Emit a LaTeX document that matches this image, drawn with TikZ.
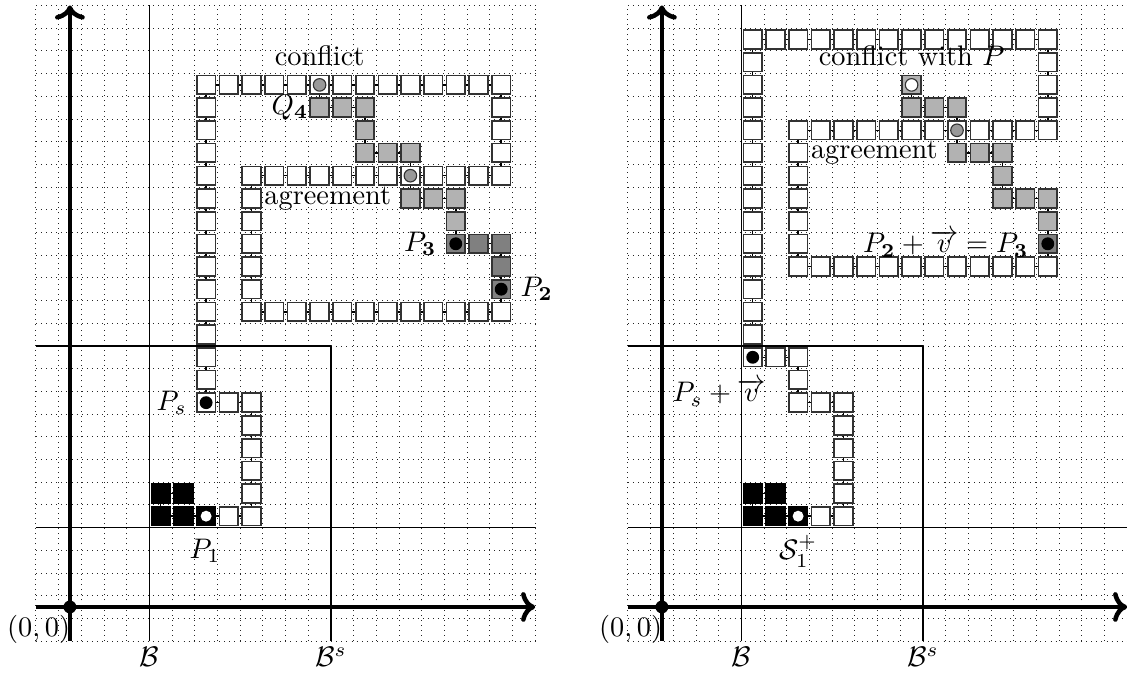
\documentclass[tikz,border=0pt]{standalone}
\usepackage{amsmath,amssymb}
\usetikzlibrary{arrows.meta}
\pgfdeclarelayer{bg}
\pgfsetlayers{bg,main}
\tikzset{
 sqbase/.style={shape=rectangle, draw=black!80, line width=0.6pt, minimum size=0.232cm, inner sep=0pt, outer sep=0pt},
 wsq/.style={sqbase, fill=white},
 lsq/.style={sqbase, fill=black!30},
 dsq/.style={sqbase, fill=black!50},
 ksq/.style={sqbase, fill=black, draw=black},
 bdot/.style={path picture={\fill[black] (path picture bounding box.center) circle (0.08cm);}},
 gdot/.style={path picture={\filldraw[fill=black!40, draw=black!80, line width=0.4pt] (path picture bounding box.center) circle (0.078cm);}},
 wdot/.style={path picture={\fill[white] (path picture bounding box.center) circle (0.068cm);}},
 wodot/.style={path picture={\filldraw[fill=white, draw=black!80, line width=0.4pt] (path picture bounding box.center) circle (0.078cm);}},
 link/.style={line width=0.5pt, black},
 gridline/.style={dash pattern=on 0.3pt off 1.5pt, line width=0.3pt, black!85},
 bline/.style={line width=0.5pt, black},
 axisline/.style={-{To[length=5pt,width=10.5pt]}, line width=1.6pt},
 origdot/.style={circle, fill=black, inner sep=0pt, minimum size=0.16cm},
 lbl/.style={inner sep=1pt},
}
\newcommand{\panelbase}[1]{%
 \begin{pgfonlayer}{bg}
 \foreach \gx in {-1.5,-0.5,...,20.6} \draw[gridline] (\gx,-1.5) -- (\gx,26.5);
 \foreach \gy in {-1.5,-0.5,...,26.6} \draw[gridline] (-1.5,\gy) -- (20.5,\gy);
 \draw[bline] (3.5,-1.5) -- (3.5,26.5);
 \draw[bline] (-1.5,3.5) -- (20.5,3.5);
 \draw[bline] (11.5,-1.5) -- (11.5,11.5);
 \draw[bline] (-1.5,11.5) -- (11.5,11.5);
 \draw[axisline] (-1.5,0) -- (20.5,0);
 \draw[axisline] (0,-1.5) -- (0,26.5);
 \end{pgfonlayer}
 \node[origdot] (#1O) at (0,0) {};
 \node[lbl] (#1orig) at (-1.38,-0.97) {$(0,0)$};
 \node[lbl, anchor=base] (#1B) at (3.5,-2.63) {$\mathcal{B}$};
 \node[lbl, anchor=base] (#1Bs) at (11.5,-2.63) {$\mathcal{B}^s$};
 \foreach \x/\y in {4/4,5/4,4/5,5/5} \node[ksq] (#1\x-\y) at (\x,\y) {};
 \node[ksq, wdot] (#16-4) at (6,4) {};
}
\begin{document}
\begin{tikzpicture}[x=0.282cm,y=0.282cm]
\useasboundingbox (-3.08,-3.08) rectangle (46.57,26.74);
% ---------------- left panel ----------------
\begin{scope}
\panelbase{L}
\foreach \x/\y in {7/4,8/4,8/5,8/6,8/7,8/8,8/9,7/9} \node[wsq] (L\x-\y) at (\x,\y) {};
\node[wsq,bdot] (L6-9) at (6,9) {};
\foreach \y in {10,...,23} \node[wsq] (L6-\y) at (6,\y) {};
\foreach \x in {7,8,9,10,12,13,14,15,16,17,18,19} \node[wsq] (L\x-23) at (\x,23) {};
\node[wsq,gdot] (L11-23) at (11,23) {};
\foreach \y in {19,20,21,22} \node[wsq] (L19-\y) at (19,\y) {};
\foreach \x in {8,9,10,11,12,13,14,16,17,18} \node[wsq] (L\x-19) at (\x,19) {};
\node[wsq,gdot] (L15-19) at (15,19) {};
\foreach \y in {13,...,18} \node[wsq] (L8-\y) at (8,\y) {};
\foreach \x in {9,...,19} \node[wsq] (L\x-13) at (\x,13) {};
\node[dsq,bdot] (L19-14) at (19,14) {};
\foreach \x/\y in {19/15,19/16,18/16} \node[dsq] (L\x-\y) at (\x,\y) {};
\node[dsq,bdot] (L17-16) at (17,16) {};
\foreach \x/\y in {17/17,17/18,16/18,15/18,15/20,14/20,13/20,13/21,13/22,12/22,11/22} \node[lsq] (L\x-\y) at (\x,\y) {};
\begin{pgfonlayer}{bg}
\draw[link] (L6-4.center) -- (L8-4.center) -- (L8-9.center) -- (L6-9.center) -- (L6-23.center) -- (L19-23.center) -- (L19-19.center) -- (L8-19.center) -- (L8-13.center) -- (L19-13.center) -- (L19-14.center);
\draw[link] (L19-14.center) -- (L19-16.center) -- (L17-16.center) -- (L17-18.center) -- (L15-18.center) -- (L15-20.center) -- (L13-20.center) -- (L13-22.center) -- (L11-22.center) -- (L11-23.center);
\draw[link] (L6-4.center) -- (L4-4.center) -- (L4-5.center) -- (L5-5.center);
\end{pgfonlayer}
\node[left] (Lps) at (L6-9.west) {$P_s$};
\node[lbl, anchor=base] (Lp1) at (5.95,2.14) {$P_1$};
\node[left] (Lp3) at (L17-16.west) {$P_{\mathbf{3}}$};
\node[right] (Lp2) at (L19-14.east) {$P_{\mathbf{2}}$};
\node[left] (Lagr) at (L15-18.west) {agreement};
\node[above] (Lconf) at (L11-23.north) {conflict};
\node[left, inner sep=0.5pt] (Lq4) at (L11-22.west) {$Q_{\mathbf{4}}$};
\end{scope}
% ---------------- right panel ----------------
\begin{scope}[shift={(26.08,0)}]
\panelbase{R}
\foreach \x/\y in {7/4,8/4,8/5,8/6,8/7,8/8,8/9,7/9,6/9,6/10,6/11,5/11} \node[wsq] (R\x-\y) at (\x,\y) {};
\node[wsq,bdot] (R4-11) at (4,11) {};
\foreach \y in {12,...,24} \node[wsq] (R4-\y) at (4,\y) {};
\foreach \x in {4,...,17} \node[wsq] (R\x-25) at (\x,25) {};
\foreach \y in {21,...,24} \node[wsq] (R17-\y) at (17,\y) {};
\foreach \x in {6,7,8,9,10,11,12,14,15,16} \node[wsq] (R\x-21) at (\x,21) {};
\node[wsq,gdot] (R13-21) at (13,21) {};
\foreach \y in {15,...,20} \node[wsq] (R6-\y) at (6,\y) {};
\foreach \x in {7,...,17} \node[wsq] (R\x-15) at (\x,15) {};
\node[dsq,bdot] (R17-16) at (17,16) {};
\foreach \x/\y in {17/17,17/18,16/18,15/18,15/19,15/20,14/20,13/20,13/22,12/22,11/22} \node[lsq] (R\x-\y) at (\x,\y) {};
\node[lsq,wodot] (R11-23) at (11,23) {};
\begin{pgfonlayer}{bg}
\draw[link] (R6-4.center) -- (R8-4.center) -- (R8-9.center) -- (R6-9.center) -- (R6-11.center) -- (R4-11.center) -- (R4-25.center) -- (R17-25.center) -- (R17-21.center) -- (R6-21.center) -- (R6-15.center) -- (R17-15.center) -- (R17-16.center);
\draw[link] (R17-16.center) -- (R17-18.center) -- (R15-18.center) -- (R15-20.center) -- (R13-20.center) -- (R13-22.center) -- (R11-22.center) -- (R11-23.center);
\draw[link] (R6-4.center) -- (R4-4.center) -- (R4-5.center) -- (R5-5.center);
\end{pgfonlayer}
\node[lbl, anchor=base] (Rpsv) at (2.52,9.04) {$P_s+\overrightarrow{v}$};
\node[lbl, anchor=base] (Rs1) at (6.0,2.07) {$\mathcal{S}_1^+$};
\node[left] (Rp23) at (R17-16.west) {$P_{\mathbf{2}}+\overrightarrow{v}=P_{\mathbf{3}}$};
\node[left] (Ragr) at (R13-20.west) {agreement};
\node[above] (Rconf) at (R11-23.north) {conflict with $P$};
\end{scope}
\end{tikzpicture}
\end{document}
